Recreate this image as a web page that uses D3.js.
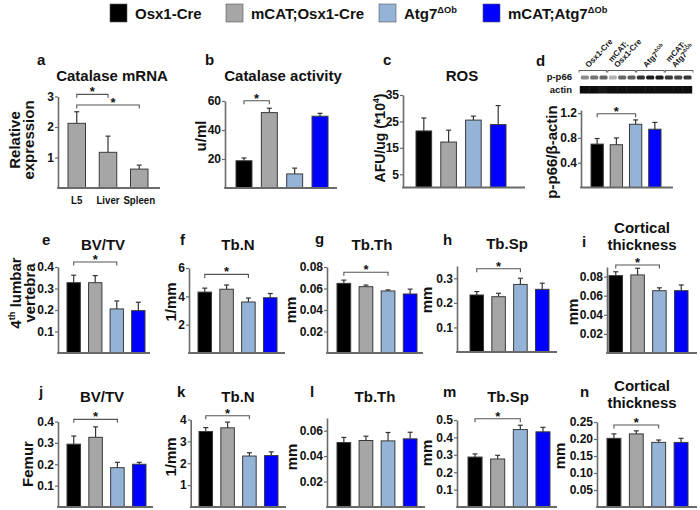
<!DOCTYPE html>
<html><head><meta charset="utf-8">
<script src="https://cdn.jsdelivr.net/npm/d3@7"></script>
<style>
body{margin:0;background:#fff}
svg{display:block}
text{font-family:"Liberation Sans",Arial,Helvetica,sans-serif;font-weight:bold;fill:#111}
</style></head>
<body><svg id="c" width="700" height="510"></svg>
<script>
// ---------------- data ----------------
const groups = ["Osx1-Cre", "mCAT;Osx1-Cre", "Atg7ΔOb", "mCAT;Atg7ΔOb"];
const groupColors = ["#000000", "#a6a6a6", "#95b3d7", "#0000ff"];
const tissues = ["L5", "Liver", "Spleen"];

const mrnaMean = [2.12, 1.17, 0.62];
const mrnaSem  = [0.38, 0.53, 0.13];
const catActMean = [18.8, 52, 9.7, 49.5];
const catActSem  = [1.9, 3, 4, 2];
const rosMean = [21.4, 17.2, 25.5, 23.8];
const rosSem  = [4.9, 4.5, 1.5, 7.2];
const p66Mean = [0.70, 0.69, 1.02, 0.94];
const p66Sem  = [0.09, 0.11, 0.07, 0.11];

const vBvtvMean = [0.327, 0.327, 0.205, 0.197];
const vBvtvSem  = [0.035, 0.033, 0.037, 0.039];
const vTbnMean = [4.3, 4.5, 3.6, 3.9];
const vTbnSem  = [0.28, 0.3, 0.28, 0.3];
const vTbthMean = [0.0648, 0.0617, 0.0577, 0.0549];
const vTbthSem  = [0.003, 0.0015, 0.001, 0.0045];
const vTbspMean = [0.232, 0.225, 0.275, 0.255];
const vTbspSem  = [0.014, 0.014, 0.025, 0.025];
const vCtMean = [0.081, 0.0817, 0.0652, 0.0652];
const vCtSem  = [0.004, 0.007, 0.003, 0.006];

const fBvtvMean = [0.294, 0.326, 0.184, 0.200];
const fBvtvSem  = [0.038, 0.049, 0.025, 0.009];
const fTbnMean = [3.45, 3.62, 2.33, 2.35];
const fTbnSem  = [0.18, 0.26, 0.15, 0.17];
const fTbthMean = [0.0507, 0.0523, 0.0520, 0.0536];
const fTbthSem  = [0.0040, 0.0034, 0.0066, 0.0052];
const fTbspMean = [0.287, 0.276, 0.445, 0.432];
const fTbspSem  = [0.018, 0.021, 0.025, 0.026];
const fCtMean = [0.202, 0.215, 0.190, 0.190];
const fCtSem  = [0.013, 0.009, 0.007, 0.012];

// western blot band intensities (0 = none, 1 = black), 3 lanes per group
const blotP66 = [0.45, 0.55, 0.6, 0.3, 0.6, 0.62, 0.8, 0.88, 0.9, 0.78, 0.72, 0.78];
const blotActin = [0.95, 0.95, 0.93, 0.95, 0.95, 0.95, 0.96, 0.96, 0.96, 0.95, 0.95, 0.95];

// ---------------- drawing ----------------
const svg = d3.select("#c");
const AX = "#6a6a6a";

function rich(sel, segs, size) {
  segs.forEach((s, k) => {
    const t = sel.append("tspan").text(s[0]);
    if (s[1] === "sup") t.attr("font-size", size * 0.62).attr("dy", -size * 0.42);
    else if (k > 0 && segs[k - 1][1] === "sup") t.attr("dy", size * 0.42);
  });
}

const legend = svg.append("g");
const legX = [110, 226, 379, 483];
const legendLabels = [[["Osx1-Cre"]], [["mCAT;Osx1-Cre"]], [["Atg7"], ["ΔOb", "sup"]], [["mCAT;Atg7"], ["ΔOb", "sup"]]];
groups.forEach((gname, i) => {
  legend.append("rect").attr("x", legX[i]).attr("y", 4).attr("width", 17).attr("height", 18)
    .attr("fill", groupColors[i]).attr("stroke", "#555").attr("stroke-width", 0.6);
  const t = legend.append("text").attr("x", legX[i] + 25).attr("y", 19).attr("font-size", 15);
  rich(t, legendLabels[i], 15);
});

const panels = [
  {cats: tissues, means: mrnaMean, sems: mrnaSem, cols: ["#a6a6a6","#a6a6a6","#a6a6a6"], dmax: 3, ticks: [1,2,3], fmt: d3.format("d"),
   L: {ax: 58, axEnd: 160, b0: 68, b1: 148, pi: 0.44, yBase: 188, yTop: 96.5}, title: ["Catalase mRNA"], tX: 112, tY: 81,
   ltr: "a", lX: 37, lY: 65, ylab: [[["Relative"]], [["expression"]]], ylX: 20, ylY: 140,
   br: [{i: 0, j: 1, v: 3.07}, {i: 0, j: 2, v: 2.72, dx: 5}], xlabels: true},
  {cats: groups, means: catActMean, sems: catActSem, cols: groupColors, dmax: 60, ticks: [20,40,60], fmt: d3.format("d"),
   L: {ax: 225, axEnd: 337, b0: 236, b1: 328, pi: 0.37, yBase: 188, yTop: 101}, title: ["Catalase activity"], tX: 283, tY: 81,
   ltr: "b", lX: 205, lY: 65, ylab: [[["u/ml"]]], ylX: 206, ylY: 136, br: [{i: 0, j: 1, v: 60.2}]},
  {cats: groups, means: rosMean, sems: rosSem, cols: groupColors, dmax: 35, ticks: [5,15,25,35], fmt: d3.format("d"),
   L: {ax: 403, axEnd: 525, b0: 416, b1: 506, pi: 0.37, yBase: 187.5, yTop: 95}, title: ["ROS"], tX: 462, tY: 81,
   ltr: "c", lX: 383, lY: 65, ylab: [[["AFU/ug (*10"], ["4", "sup"], [")"]]], ylX: 385, ylY: 138, ylSize: 14, br: []},
  {cats: groups, means: p66Mean, sems: p66Sem, cols: groupColors, dmax: 1.25, ticks: [0.4,0.8,1.2], fmt: d3.format(".1f"),
   L: {ax: 581, axEnd: 673, b0: 591, b1: 661, pi: 0.36, yBase: 187.5, yTop: 110}, title: [], 
   ltr: "d", lX: 536, lY: 66, ylab: [[["p-p66/β-actin"]]], ylX: 557, ylY: 152, br: [{i: 0, j: 2, v: 1.19}]},

  {cats: groups, means: vBvtvMean, sems: vBvtvSem, cols: groupColors, dmax: 0.4, ticks: [0.1,0.2,0.3,0.4], fmt: d3.format(".1f"),
   L: {ax: 58, axEnd: 150, b0: 67, b1: 145, pi: 0.38, yBase: 353, yTop: 267}, title: ["BV/TV"], tX: 103, tY: 250,
   ltr: "e", lX: 42, lY: 245, ylab: [[["4"], ["th", "sup"], [" lumbar"]], [["vertebra"]]], ylX: 21, ylY: 293, br: [{i: 0, j: 2, v: 0.423}]},
  {cats: groups, means: vTbnMean, sems: vTbnSem, cols: groupColors, dmax: 6, ticks: [2,4,6], fmt: d3.format("d"),
   L: {ax: 189, axEnd: 285, b0: 198, b1: 277, pi: 0.38, yBase: 353, yTop: 268}, title: ["Tb.N"], tX: 238, tY: 250,
   ltr: "f", lX: 180, lY: 245, ylab: [[["1/mm"]]], ylX: 176, ylY: 302, br: [{i: 0, j: 2, v: 5.55}]},
  {cats: groups, means: vTbthMean, sems: vTbthSem, cols: groupColors, dmax: 0.08, ticks: [0.02,0.04,0.06,0.08], fmt: d3.format(".2f"),
   L: {ax: 327, axEnd: 423, b0: 337, b1: 417, pi: 0.38, yBase: 353, yTop: 267}, title: ["Tb.Th"], tX: 372, tY: 250,
   ltr: "g", lX: 315, lY: 244, ylab: [[["mm"]]], ylX: 296, ylY: 310, br: [{i: 0, j: 2, v: 0.0751}]},
  {cats: groups, means: vTbspMean, sems: vTbspSem, cols: groupColors, dmax: 0.35, ticks: [0.1,0.2,0.3], fmt: d3.format(".1f"),
   L: {ax: 457, axEnd: 557, b0: 470, b1: 549, pi: 0.38, yBase: 352, yTop: 266}, title: ["Tb.Sp"], tX: 507, tY: 249,
   ltr: "h", lX: 443, lY: 245, ylab: [[["mm"]]], ylX: 432, ylY: 300, br: [{i: 0, j: 2, v: 0.339}]},
  {cats: groups, means: vCtMean, sems: vCtSem, cols: groupColors, dmax: 0.09, ticks: [0.02,0.04,0.06,0.08], fmt: d3.format(".2f"),
   L: {ax: 607, axEnd: 697, b0: 609, b1: 688, pi: 0.38, yBase: 353, yTop: 267}, title: ["Cortical", "thickness"], tX: 642, tY: 233,
   ltr: "i", lX: 582, lY: 247, ylab: [[["mm"]]], ylX: 578, ylY: 312, br: [{i: 0, j: 2, v: 0.0921}]},

  {cats: groups, means: fBvtvMean, sems: fBvtvSem, cols: groupColors, dmax: 0.4, ticks: [0.1,0.2,0.3,0.4], fmt: d3.format(".1f"),
   L: {ax: 58, axEnd: 153, b0: 67, b1: 146, pi: 0.38, yBase: 507, yTop: 421.5}, title: ["BV/TV"], tX: 102, tY: 402,
   ltr: "j", lX: 39, lY: 397, ylab: [[["Femur"]]], ylX: 33, ylY: 464, br: [{i: 0, j: 2, v: 0.41}]},
  {cats: groups, means: fTbnMean, sems: fTbnSem, cols: groupColors, dmax: 4, ticks: [1,2,3,4], fmt: d3.format("d"),
   L: {ax: 190.7, axEnd: 286, b0: 199, b1: 278, pi: 0.38, yBase: 507, yTop: 419.5}, title: ["Tb.N"], tX: 238, tY: 402,
   ltr: "k", lX: 177, lY: 397, ylab: [[["1/mm"]]], ylX: 176, ylY: 457, br: [{i: 0, j: 2, v: 4.17}]},
  {cats: groups, means: fTbthMean, sems: fTbthSem, cols: groupColors, dmax: 0.07, ticks: [0.02,0.04,0.06], fmt: d3.format(".2f"),
   L: {ax: 327, axEnd: 425, b0: 337, b1: 417, pi: 0.38, yBase: 507, yTop: 418}, title: ["Tb.Th"], tX: 375, tY: 402,
   ltr: "l", lX: 310, lY: 397, ylab: [[["mm"]]], ylX: 297, ylY: 457, br: []},
  {cats: groups, means: fTbspMean, sems: fTbspSem, cols: groupColors, dmax: 0.5, ticks: [0.1,0.2,0.3,0.4,0.5], fmt: d3.format(".1f"),
   L: {ax: 457, axEnd: 557, b0: 468, b1: 550, pi: 0.38, yBase: 507, yTop: 420}, title: ["Tb.Sp"], tX: 508, tY: 402,
   ltr: "m", lX: 443, lY: 397, ylab: [[["mm"]]], ylX: 432, ylY: 453, br: [{i: 0, j: 2, v: 0.507}]},
  {cats: groups, means: fCtMean, sems: fCtSem, cols: groupColors, dmax: 0.25, ticks: [0.05,0.10,0.15,0.20,0.25], fmt: d3.format(".2f"),
   L: {ax: 597, axEnd: 697, b0: 607, b1: 688, pi: 0.38, yBase: 507, yTop: 422}, title: ["Cortical", "thickness"], tX: 642, tY: 391,
   ltr: "n", lX: 580, lY: 397, ylab: [[["mm"]]], ylX: 565, ylY: 456, br: [{i: 0, j: 2, v: 0.241}]}
];

function drawPanel(p) {
  const L = p.L;
  const g = svg.append("g");
  const x = d3.scaleBand().domain(p.cats).range([L.b0, L.b1]).paddingInner(L.pi).paddingOuter(0);
  const y = d3.scaleLinear().domain([0, p.dmax]).range([L.yBase, L.yTop]);
  const data = p.cats.map((c, i) => ({c, m: p.means[i], s: p.sems[i], col: p.cols[i]}));
  const cx = d => x(d.c) + x.bandwidth() / 2;

  // error bars (upper only)
  const eb = g.selectAll("g.eb").data(data).join("g").attr("class", "eb");
  eb.append("line").attr("x1", cx).attr("x2", cx)
    .attr("y1", d => y(d.m)).attr("y2", d => y(d.m + d.s)).attr("stroke", "#333").attr("stroke-width", 1.2);
  eb.append("line").attr("x1", d => cx(d) - 2.5).attr("x2", d => cx(d) + 2.5)
    .attr("y1", d => y(d.m + d.s)).attr("y2", d => y(d.m + d.s)).attr("stroke", "#333").attr("stroke-width", 1.2);

  // bars
  g.selectAll("rect.bar").data(data).join("rect").attr("class", "bar")
    .attr("x", d => x(d.c)).attr("width", x.bandwidth())
    .attr("y", d => y(d.m)).attr("height", d => y(0) - y(d.m))
    .attr("fill", d => d.col).attr("stroke", "#3a3a3a").attr("stroke-width", 1);

  // y axis
  const ya = g.append("g").attr("transform", `translate(${L.ax},0)`)
    .call(d3.axisLeft(y).tickValues(p.ticks).tickFormat(p.fmt).tickSize(3).tickSizeOuter(0).tickPadding(1));
  ya.select(".domain").attr("stroke", AX).attr("stroke-width", 1.6);
  ya.selectAll(".tick line").attr("stroke", AX).attr("stroke-width", 1.2);
  ya.selectAll(".tick text").attr("font-size", 12).attr("font-family", null).attr("fill", "#111");
  // x axis line
  g.append("line").attr("x1", L.ax - 0.8).attr("x2", L.axEnd).attr("y1", L.yBase).attr("y2", L.yBase)
    .attr("stroke", AX).attr("stroke-width", 1.8);

  if (p.xlabels) {
    const xa = g.append("g").attr("transform", `translate(0,${L.yBase})`)
      .call(d3.axisBottom(x).tickSize(0).tickPadding(8));
    xa.select(".domain").remove();
    xa.selectAll(".tick text").attr("font-size", 11).attr("font-family", null).attr("fill", "#111")
      .attr("transform", "scale(0.88,1)");
  }

  // significance brackets
  p.br.forEach(b => {
    const xa = x(p.cats[b.i]) + x.bandwidth() / 2, xb = x(p.cats[b.j]) + x.bandwidth() / 2, yy = y(b.v);
    g.append("path").attr("d", `M${xa},${yy + 3.5}V${yy}H${xb}V${yy + 3.5}`)
      .attr("fill", "none").attr("stroke", "#555").attr("stroke-width", 1.1);
    g.append("text").attr("x", (xa + xb) / 2 + (b.dx || 0)).attr("y", yy + 2).attr("text-anchor", "middle")
      .attr("font-size", 13).text("*");
  });

  // title
  p.title.forEach((t, k) => g.append("text").attr("x", p.tX).attr("y", p.tY + k * 17).attr("text-anchor", "middle")
    .attr("font-size", 15).text(t));
  // panel letter
  g.append("text").attr("x", p.lX).attr("y", p.lY).attr("font-size", 15).text(p.ltr);
  // y label
  const fs = p.ylSize || 15;
  p.ylab.forEach((line, k) => {
    const t = g.append("text").attr("transform", `translate(${p.ylX + k * 13.5},${p.ylY}) rotate(-90)`)
      .attr("text-anchor", "middle").attr("font-size", fs);
    rich(t, line, fs);
  });
}
panels.forEach(drawPanel);

// ---------------- western blot (panel d) ----------------
const defs = svg.append("defs");
defs.append("filter").attr("id", "blur").attr("x", "-20%").attr("y", "-50%").attr("width", "140%").attr("height", "200%")
  .append("feGaussianBlur").attr("stdDeviation", 0.7);
const lanes = d3.scaleBand().domain(d3.range(12)).range([580, 692]);
const grpBand = d3.scaleBand().domain(groups).range([579, 693]).paddingInner(0.04);
const blot = svg.append("g");
const shade = v => d3.interpolateRgb("#ffffff", "#000000")(v);
blot.append("g").attr("filter", "url(#blur)").selectAll("rect").data(blotP66).join("rect")
  .attr("x", (d, i) => lanes(i) + 0.8).attr("width", lanes.bandwidth() - 1.2)
  .attr("y", 75.5).attr("height", 4).attr("rx", 1.5).attr("fill", d => shade(d));
blot.append("g").attr("filter", "url(#blur)").selectAll("rect").data(blotActin).join("rect")
  .attr("x", (d, i) => lanes(i) - 0.2).attr("width", lanes.bandwidth() + 0.4)
  .attr("y", 86).attr("height", 7.5).attr("fill", d => shade(d));
grpBand.domain().forEach(gname => {
  const x0 = grpBand(gname), x1 = x0 + grpBand.bandwidth();
  blot.append("path").attr("d", `M${x0},${72.5}V${70.5}H${x1}V${72.5}`).attr("fill", "none").attr("stroke", "#333").attr("stroke-width", 0.8);
});
const laneLabels = [[[["Osx1-Cre"]]], [[["mCAT;"]], [["Osx1-Cre"]]], [[["Atg7"], ["ΔOb", "sup"]]], [[["mCAT;"]], [["Atg7"], ["ΔOb", "sup"]]]];
groups.forEach((gname, gi) => {
  const cx = grpBand(gname) + grpBand.bandwidth() / 2;
  const lines = laneLabels[gi];
  lines.forEach((ln, k) => {
    const off = (lines.length - 1 - k) * 8;
    const t = blot.append("text").attr("transform", `translate(${cx - 4},${68}) rotate(-47) translate(0,${-off})`)
      .attr("font-size", 8).attr("font-weight", "normal");
    rich(t, ln, 8);
  });
});
blot.append("text").attr("x", 572).attr("y", 80).attr("text-anchor", "end").attr("font-size", 9.5).text("p-p66");
blot.append("text").attr("x", 572).attr("y", 93).attr("text-anchor", "end").attr("font-size", 9.5).text("actin");
</script></body></html>
